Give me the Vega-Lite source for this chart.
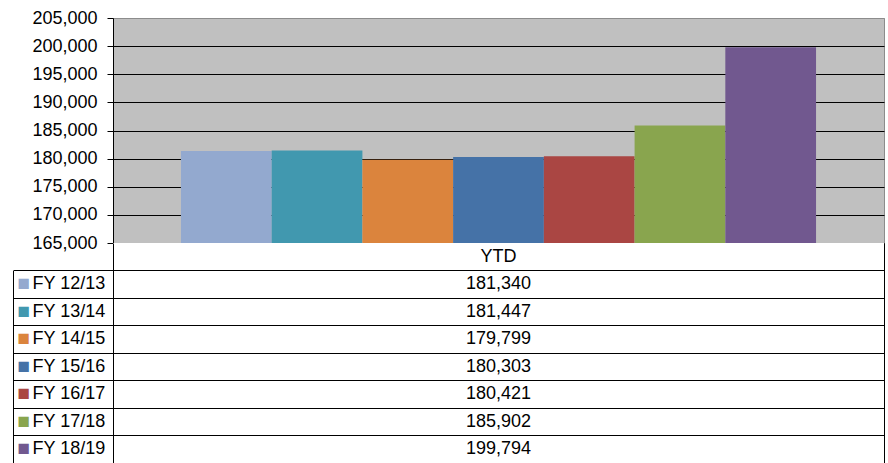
{
  "$schema": "https://vega.github.io/schema/vega-lite/v6.json",
  "width": 771,
  "height": 445,
  "autosize": {"type": "none"},
  "padding": {"left": 113, "top": 18, "right": 4, "bottom": 0},
  "background": "white",
  "view": {"fill": "#C0C0C0", "stroke": "#8c8c8c", "strokeWidth": 1},
  "config": {"font": "Liberation Sans"},
  "data": {
    "values": [
      {"period": "YTD", "series": "FY 12/13", "value": 181340},
      {"period": "YTD", "series": "FY 13/14", "value": 181447},
      {"period": "YTD", "series": "FY 14/15", "value": 179799},
      {"period": "YTD", "series": "FY 15/16", "value": 180303},
      {"period": "YTD", "series": "FY 16/17", "value": 180421},
      {"period": "YTD", "series": "FY 17/18", "value": 185902},
      {"period": "YTD", "series": "FY 18/19", "value": 199794}
    ]
  },
  "layer": [
    {
      "mark": {"type": "bar"},
      "encoding": {
        "x": {"field": "period", "type": "nominal", "scale": {"paddingInner": 0, "paddingOuter": 0.107}, "axis": null},
        "xOffset": {"field": "series", "type": "nominal", "sort": null, "scale": {"paddingInner": 0, "paddingOuter": 0}},
        "y": {
          "field": "value", "type": "quantitative",
          "scale": {"domain": [165000, 205000], "range": [225, 0], "nice": false, "zero": false},
          "axis": {
            "orient": "left", "title": null,
            "values": [165000, 170000, 175000, 180000, 185000, 190000, 195000, 200000, 205000],
            "labelExpr": "format(datum.value, ',')", "labelFontSize": 18, "labelColor": "black", "labelPadding": 10,
            "tickSize": 6, "tickColor": "black", "domainColor": "black",
            "grid": true, "gridOpacity": 1,
            "gridColor": {"condition": {"test": "datum.value == 205000", "value": "#8c8c8c"}, "value": "black"},
            "zindex": 0
          }
        },
        "y2": {"datum": 165000},
        "color": {
          "field": "series", "type": "nominal", "sort": null,
          "scale": {
            "domain": ["FY 12/13", "FY 13/14", "FY 14/15", "FY 15/16", "FY 16/17", "FY 17/18", "FY 18/19"],
            "range": ["#93A9CF", "#4198AF", "#DB843D", "#4572A7", "#AA4643", "#89A54E", "#71588F"]
          },
          "legend": null
        }
      }
    },
    {
      "transform": [{"aggregate": [{"op": "count", "as": "n"}], "groupby": ["period"]}],
      "layer": [
        {
          "mark": {"type": "rect", "fill": "white"},
          "encoding": {
            "y": {
              "field": "period", "type": "nominal",
              "scale": {"domain": ["YTD", "FY 12/13", "FY 13/14", "FY 14/15", "FY 15/16", "FY 16/17", "FY 17/18", "FY 18/19"], "range": [225, 445], "paddingInner": 0, "paddingOuter": 0},
              "axis": {"orient": "left", "title": null, "labels": false, "ticks": false, "grid": false, "domain": true, "domainColor": "black", "zindex": 1}
            }
          }
        },
        {
          "mark": {"type": "text", "fontSize": 18, "color": "black"},
          "encoding": {
            "y": {
              "field": "period", "type": "nominal",
              "scale": {"domain": ["YTD", "FY 12/13", "FY 13/14", "FY 14/15", "FY 15/16", "FY 16/17", "FY 17/18", "FY 18/19"], "range": [225, 445], "paddingInner": 0, "paddingOuter": 0},
              "axis": {"orient": "right", "title": null, "labels": false, "ticks": false, "grid": false, "domain": true, "domainColor": "black", "zindex": 1}
            },
            "text": {"field": "period", "type": "nominal"}
          }
        }
      ],
      "resolve": {"scale": {"y": "shared"}, "axis": {"y": "independent"}}
    },
    {
      "layer": [
        {
          "mark": {"type": "rect", "fill": "white"},
          "encoding": {
            "y": {
              "field": "series", "type": "nominal",
              "scale": {"domain": ["FY 12/13", "FY 13/14", "FY 14/15", "FY 15/16", "FY 16/17", "FY 17/18", "FY 18/19"], "range": [252.5, 445], "paddingInner": 0, "paddingOuter": 0},
              "axis": {
                "orient": "left", "title": null, "bandPosition": 0,
                "labelAlign": "left", "labelBaseline": "middle", "labelPadding": -19,
                "labelFontSize": 18, "labelColor": "black",
                "ticks": true, "tickSize": 100, "tickColor": "black",
                "grid": true, "gridColor": "black", "gridOpacity": 1,
                "domain": false, "zindex": 1
              }
            }
          }
        },
        {
          "mark": {"type": "text", "fontSize": 18, "color": "black"},
          "encoding": {
            "y": {
              "field": "series", "type": "nominal",
              "scale": {"domain": ["FY 12/13", "FY 13/14", "FY 14/15", "FY 15/16", "FY 16/17", "FY 17/18", "FY 18/19"], "range": [252.5, 445], "paddingInner": 0, "paddingOuter": 0},
              "axis": {
                "orient": "left", "title": null, "offset": 100,
                "domain": true, "domainColor": "black", "ticks": false, "grid": false,
                "labelExpr": "'■'", "labelFontSize": 21, "labelAlign": "left", "labelBaseline": "middle", "labelPadding": -4,
                "labelColor": {
                  "condition": [
                    {"test": "datum.value == 'FY 12/13'", "value": "#93A9CF"},
                    {"test": "datum.value == 'FY 13/14'", "value": "#4198AF"},
                    {"test": "datum.value == 'FY 14/15'", "value": "#DB843D"},
                    {"test": "datum.value == 'FY 15/16'", "value": "#4572A7"},
                    {"test": "datum.value == 'FY 16/17'", "value": "#AA4643"},
                    {"test": "datum.value == 'FY 17/18'", "value": "#89A54E"}
                  ],
                  "value": "#71588F"
                },
                "zindex": 1
              }
            },
            "text": {"field": "value", "type": "quantitative", "format": ","}
          }
        }
      ],
      "resolve": {"scale": {"y": "shared"}, "axis": {"y": "independent"}}
    }
  ],
  "resolve": {"scale": {"y": "independent"}, "axis": {"y": "independent"}}
}
